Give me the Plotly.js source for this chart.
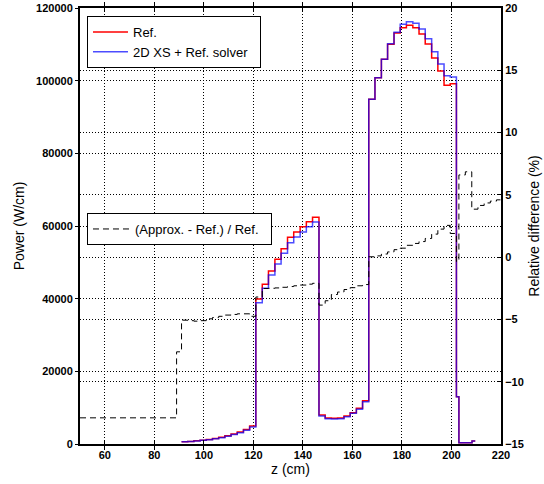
<!DOCTYPE html>
<html>
<head>
<meta charset="utf-8">
<script src="https://cdn.plot.ly/plotly-3.0.1.min.js"></script>
<style>
html, body { margin: 0; padding: 0; background: #fff; }
#chart { width: 544px; height: 484px; }
</style>
</head>
<body>
<div id="chart"></div>
<script>
// Bin edges (cm) for the power curves (left edges + final right edge)
var powerEdges = [91.0, 93.5, 96.0, 98.5, 101.0, 103.5, 106.0, 108.5, 111.0, 113.5, 116.0, 118.5,
  121.0, 123.6, 126.1, 128.7, 131.2, 133.8, 136.3, 138.9, 141.4, 143.9,
  146.5, 149.0, 151.5, 154.0, 156.6, 159.1, 161.6, 164.1,
  166.6, 169.1, 171.7, 174.2, 176.8, 179.3, 181.8, 184.4, 186.9, 189.4, 192.0, 194.5, 197.0, 199.5,
  202.0, 203.0, 208.3, 209.6];

// Ref. power (W/cm)
var refPower = [620, 720, 880, 1040, 1250, 1520, 1850, 2280, 2750, 3300, 4000, 4950,
  39900, 43940, 47610, 50820, 53750, 56880, 58340, 59800, 61180, 62380,
  7980, 7155, 7070, 7155, 7706, 8620, 9820, 11920,
  94860, 100810, 105870, 110000, 113110, 114570, 115220, 114570, 112830, 110080, 106230, 102650, 98720, 99160,
  13000, 350, 850];

// 2D XS + Ref. solver power (W/cm)
var xsPower = [600, 700, 850, 1000, 1200, 1450, 1750, 2150, 2600, 3100, 3800, 4680,
  38890, 42840, 46510, 49540, 52480, 55400, 56970, 58340, 59800, 61090,
  7706, 6960, 6880, 6960, 7520, 8440, 9540, 11650,
  94860, 100810, 105870, 110170, 113300, 115500, 116220, 115770, 114210, 111540, 107960, 104580, 101360, 101000,
  13000, 350, 850];

// Bin edges (cm) for the relative difference
var relEdges = [50.0, 89.0,
  91.0, 93.5, 96.0, 98.5, 101.0, 103.5, 106.0, 108.5, 111.0, 113.5, 116.0, 118.5,
  121.0, 123.6, 126.1, 128.7, 131.2, 133.8, 136.3, 138.9, 141.4, 143.9,
  146.5, 149.0, 151.5, 154.0, 156.6, 159.1, 161.6, 164.1,
  166.6, 169.1, 171.7, 174.2, 176.8, 179.3, 181.8, 184.4, 186.9, 189.4, 192.0, 194.5, 197.0, 199.5,
  202.0, 203.0, 205.6, 208.2, 210.7, 213.2, 215.7, 218.2, 220.0];

// (Approx. - Ref.) / Ref. (%)
var relDiff = [-12.9, -7.6,
  -5.06, -5.1, -5.14, -5.1, -4.95, -4.85, -4.75, -4.65, -4.6, -4.55, -4.55, -4.75,
  -3.2, -2.52, -2.5, -2.47, -2.42, -2.36, -2.3, -2.24, -2.17, -2.1,
  -3.85, -3.5, -3.0, -2.8, -2.6, -2.45, -2.3, -2.2,
  0.03, 0.1, 0.25, 0.42, 0.6, 0.72, 0.95, 1.1, 1.25, 1.5, 1.85, 2.25, 2.55, 1.9,
  -0.35, 6.6, 6.85, 3.85, 4.15, 4.35, 4.5, 4.6];

var xTicks = [60, 80, 100, 120, 140, 160, 180, 200, 220];
var powerTicks = [0, 20000, 40000, 60000, 80000, 100000, 120000];
var relTicks = [-15, -10, -5, 0, 5, 10, 15, 20];

function stepY(v) { return v.concat([v[v.length - 1]]); }

var FONT = 'Liberation Sans, Arial, Helvetica, sans-serif';
var GRID = '1px,2px';
var PAD = '\u00a0\u00a0';

var traces = [
  {
    x: powerEdges, y: stepY(refPower), name: 'Ref.', type: 'scatter', mode: 'lines',
    line: {shape: 'hv', color: '#ff0000', width: 1.5}, yaxis: 'y', legend: 'legend'
  },
  {
    x: powerEdges, y: stepY(xsPower), name: '2D XS + Ref. solver' + PAD, type: 'scatter', mode: 'lines',
    line: {shape: 'hv', color: 'rgba(0,0,255,0.7)', width: 1.5}, yaxis: 'y', legend: 'legend'
  },
  {
    x: relEdges, y: stepY(relDiff), name: '(Approx. - Ref.) / Ref.' + PAD, type: 'scatter', mode: 'lines',
    line: {shape: 'hv', color: '#000000', width: 1, dash: '6px,4px'}, yaxis: 'y2', legend: 'legend2'
  }
];

var layout = {
  width: 544, height: 484,
  margin: {l: 80, r: 43, t: 8, b: 40},
  paper_bgcolor: '#ffffff', plot_bgcolor: '#ffffff',
  font: {family: FONT, color: '#000'},
  xaxis: {
    range: [50, 220], tickvals: xTicks, ticktext: xTicks.map(String),
    showgrid: true, gridcolor: '#000', gridwidth: 1, griddash: GRID, zeroline: false,
    showline: true, linecolor: '#000', linewidth: 2, mirror: 'allticks',
    ticks: 'inside', ticklen: 4, tickcolor: '#000',
    tickfont: {size: 11, weight: 'bold', family: FONT},
    title: {text: 'z (cm)', font: {size: 14, family: FONT}, standoff: 4}
  },
  yaxis: {
    range: [0, 120000], tickvals: powerTicks, ticktext: powerTicks.map(String),
    showgrid: true, gridcolor: '#000', gridwidth: 1, griddash: GRID, zeroline: false,
    showline: true, linecolor: '#000', linewidth: 2,
    ticks: 'outside', ticklen: 3, tickcolor: '#000',
    tickfont: {size: 11, weight: 'bold', family: FONT},
    title: {text: 'Power (W/cm)', font: {size: 14, family: FONT}, standoff: 8}
  },
  yaxis2: {
    range: [-15, 20], tickvals: relTicks, ticktext: relTicks.map(function (v) { return v < 0 ? '\u2212' + Math.abs(v) : String(v); }),
    overlaying: 'y', side: 'right',
    showgrid: true, gridcolor: '#000', gridwidth: 1, griddash: GRID, zeroline: false,
    showline: true, linecolor: '#000', linewidth: 2,
    ticks: 'inside', ticklen: 4, tickcolor: '#000',
    tickfont: {size: 11, weight: 'bold', family: FONT},
    title: {text: 'Relative difference (%)', font: {size: 14, family: FONT}, standoff: 6}
  },
  legend: {
    x: 0.0166, y: 0.9817, xanchor: 'left', yanchor: 'top',
    bgcolor: '#ffffff', bordercolor: '#000', borderwidth: 1, itemwidth: 35,
    font: {size: 13, family: FONT}, tracegroupgap: 0
  },
  legend2: {
    x: 0.0166, y: 0.5298, xanchor: 'left', yanchor: 'top',
    bgcolor: '#ffffff', bordercolor: '#000', borderwidth: 1, itemwidth: 37,
    font: {size: 13, family: FONT}
  },
  showlegend: true
};

Plotly.newPlot('chart', traces, layout, {displayModeBar: false, staticPlot: true});
</script>
</body>
</html>
